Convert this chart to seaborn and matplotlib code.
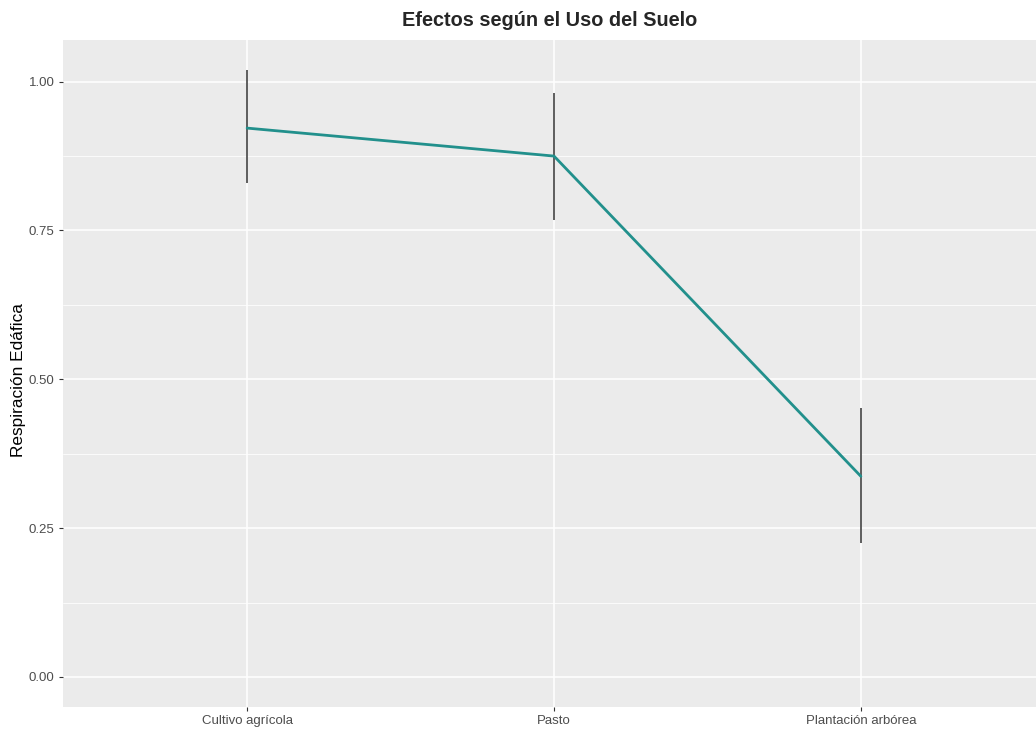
import numpy as np
import pandas as pd
import matplotlib
matplotlib.use("Agg")
import matplotlib.pyplot as plt
import seaborn as sns

# Land-use categories and mean soil respiration with error bar limits
usos = ["Cultivo agrícola", "Pasto", "Plantación arbórea"]
media = [0.922, 0.875, 0.337]
inferior = [0.830, 0.768, 0.225]
superior = [1.020, 0.981, 0.451]
y_ticks = [0.00, 0.25, 0.50, 0.75, 1.00]
y_tick_labels = ["0.00", "0.25", "0.50", "0.75", "1.00"]

df = pd.DataFrame({"uso": usos, "media": media, "inf": inferior, "sup": superior})
df["pos"] = np.arange(len(usos))

sns.set_theme(style="darkgrid", rc={
    "axes.facecolor": "#EBEBEB",
    "grid.color": "white",
    "axes.edgecolor": "#EBEBEB",
})
plt.rcParams["font.family"] = ["Liberation Sans", "DejaVu Sans"]

W, H = 1036, 731
fig = plt.figure(figsize=(W / 100, H / 100), dpi=100)
left, right, top, bottom = 63, 1045, 40, 707
ax = fig.add_axes([left / W, 1 - bottom / H, (right - left) / W, (bottom - top) / H])

ax.vlines(df["pos"], df["inf"], df["sup"], color="#333333", linewidth=1.1, zorder=3)
sns.lineplot(data=df, x="pos", y="media", ax=ax, color="#22908C",
             linewidth=2.0, zorder=4, legend=False)

ax.set_xlim(-0.6, 2.6)
ax.set_ylim(-0.0505, 1.07)
ax.set_xticks(df["pos"])
ax.set_xticklabels(usos)
ax.set_yticks(y_ticks)
ax.set_yticklabels(y_tick_labels)
ax.set_yticks([0.125, 0.375, 0.625, 0.875], minor=True)
ax.grid(which="major", color="white", linewidth=1.1)
ax.grid(which="minor", axis="y", color="white", linewidth=0.55)
ax.grid(which="minor", axis="x", visible=False)
for s in ax.spines.values():
    s.set_visible(False)

ax.tick_params(axis="both", which="major", length=3, width=0.8, color="#333333",
               labelsize=9.5, labelcolor="#4D4D4D", pad=3,
               bottom=True, left=True)
ax.tick_params(axis="both", which="minor", length=0)
ax.set_xlabel("")
ax.set_ylabel("Respiración Edáfica", fontsize=12.4, color="black")
ax.yaxis.set_label_coords((26 - left) / (right - left), 0.49)

fig.text((63 + 1036) / 2 / W, 1 - 20 / H, "Efectos según el Uso del Suelo",
         ha="center", va="center", fontsize=14.3, fontweight="bold")

fig.savefig("out.png", dpi=100)
